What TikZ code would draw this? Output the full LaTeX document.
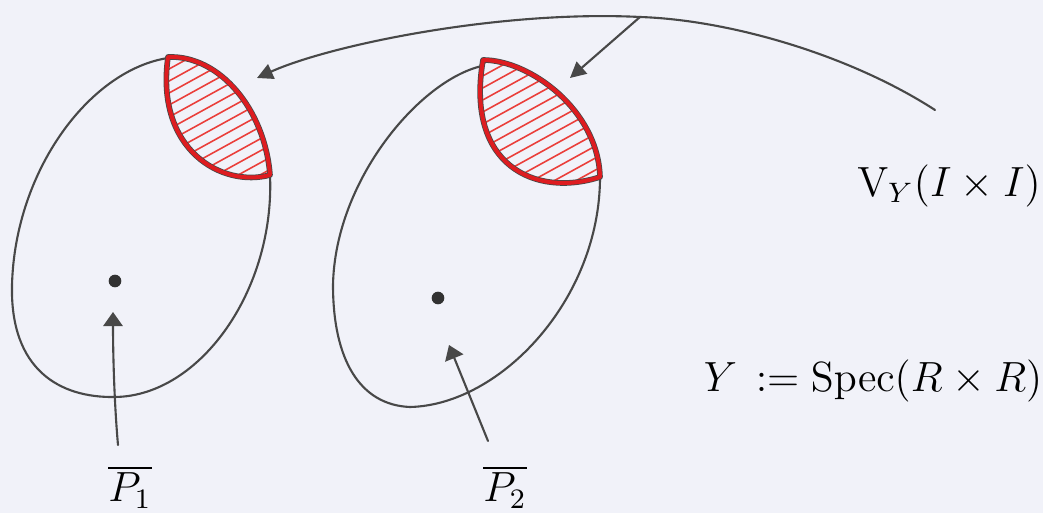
\documentclass[tikz,border=0pt]{standalone}
\usetikzlibrary{arrows.meta}
\definecolor{paper}{RGB}{241,242,249}
\definecolor{pencil}{RGB}{72,72,72}
\definecolor{ink}{RGB}{222,28,32}
\definecolor{hatchred}{RGB}{234,62,58}
\begin{document}
\begin{tikzpicture}[x=0.01cm,y=-0.01cm,
  pencilline/.style={draw=pencil,line width=0.6pt,line cap=round,line join=round},
  arrowline/.style={pencilline,-{Triangle[length=4.5pt,width=4.5pt]}},
  uparrow/.style={pencilline,-{Triangle[length=4pt,width=5.5pt]}},
  lensunder/.style={draw=pencil,line width=1.6pt,line join=round},
  lensline/.style={draw=ink,line width=1.15pt,line join=round},
  hatchline/.style={draw=hatchred,line width=0.45pt},
  dot/.style={circle,fill=pencil!70!black,inner sep=0pt,minimum size=3.6pt},
  txt/.style={font=\fontsize{12}{14}\selectfont,inner sep=0pt}
]
\fill[paper] (0,0) rectangle (1043,513);
\useasboundingbox (0,0) rectangle (1043,513);

% ---------- left blob ----------
\draw[pencilline] (168,58) .. controls (90,70) and (15,170) .. (12,285)
  .. controls (10,370) and (60,398) .. (115,397)
  .. controls (200,396) and (275,290) .. (270,175);
\begin{scope}
  \clip (168,57) .. controls (220,55) and (265,110) .. (270,175) .. controls (222,188) and (155,150) .. (168,57) -- cycle;
  \foreach \k in {84,96,...,264} \draw[hatchline] (120,\k) -- ++(200,-110);
\end{scope}
\draw[lensunder] (168,57) .. controls (220,55) and (265,110) .. (270,175) .. controls (222,188) and (155,150) .. (168,57) -- cycle;
\draw[lensline] (168,57) .. controls (220,55) and (265,110) .. (270,175) .. controls (222,188) and (155,150) .. (168,57) -- cycle;

% ---------- right blob ----------
\draw[pencilline] (482,66) .. controls (420,80) and (335,180) .. (333,285)
  .. controls (333,360) and (360,405) .. (410,407)
  .. controls (500,405) and (600,300) .. (600,177);
\begin{scope}
  \clip (483,60) .. controls (530,60) and (598,110) .. (600,177) .. controls (535,198) and (465,165) .. (483,60) -- cycle;
  \foreach \k in {82,94,...,262} \draw[hatchline] (450,\k) -- ++(200,-110);
\end{scope}
\draw[lensunder] (483,60) .. controls (530,60) and (598,110) .. (600,177) .. controls (535,198) and (465,165) .. (483,60) -- cycle;
\draw[lensline] (483,60) .. controls (530,60) and (598,110) .. (600,177) .. controls (535,198) and (465,165) .. (483,60) -- cycle;

% ---------- points ----------
\node[dot] (d1) at (115,281) {};
\node[dot] (d2) at (438,298) {};

% ---------- labels ----------
\node[txt] (vy) at (949,186) {$\mathrm{V}_{Y}(I\times I)$};
\node[txt] (spec) at (873,381) {$Y\,:=\mathrm{Spec}(R\times R)$};
\node[txt] (p1) at (130,487) {$\overline{P_1}$};
\node[txt] (p2) at (505,487) {$\overline{P_2}$};

% ---------- connectors ----------
\coordinate (tail) at (935,110);
\coordinate (hub) at (640,17);
\coordinate (tipL) at (257,78);
\coordinate (tipR) at (570,78);
\coordinate (p1tail) at (118,445);
\coordinate (p1tip) at (113,312);
\coordinate (p2tail) at (488,441);
\coordinate (p2tip) at (449,345);

\draw[pencilline] (tail) .. controls (850,55) and (730,20) .. (hub);
\draw[arrowline] (hub) .. controls (500,10) and (330,45) .. (tipL);
\draw[arrowline] (hub) -- (tipR);
\draw[uparrow] (p1tail) .. controls (114,400) and (113,350) .. (p1tip);
\draw[uparrow] (p2tail) -- (p2tip);
\end{tikzpicture}
\end{document}
